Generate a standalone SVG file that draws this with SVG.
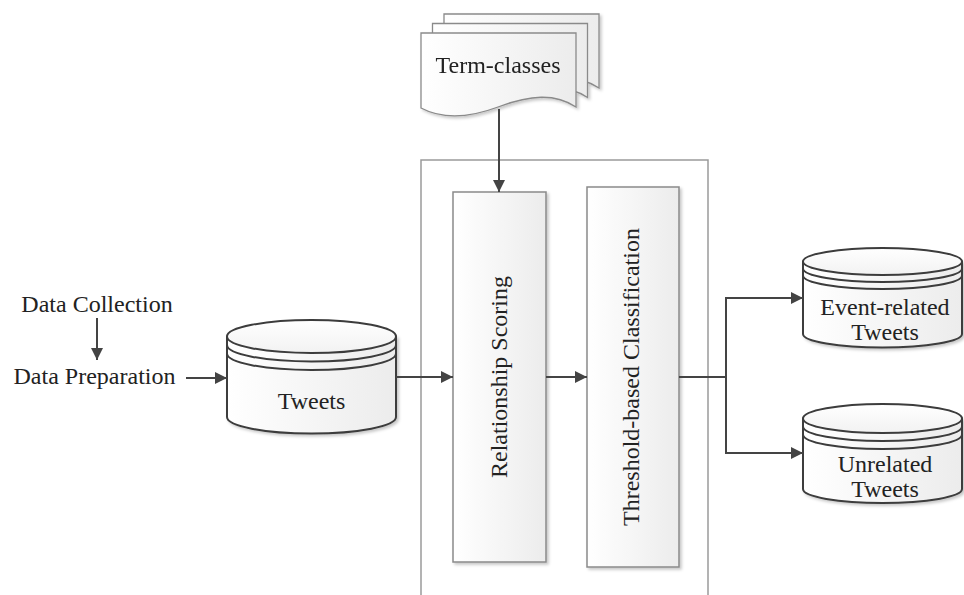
<svg xmlns="http://www.w3.org/2000/svg" width="964" height="595" viewBox="0 0 964 595">
  <style>
    .t { font-family: "Liberation Serif", "Times New Roman", serif; font-size: 24px; fill: #222; }
    .mid { text-anchor: middle; }
    .box { fill: url(#g); stroke: #8a8a8a; stroke-width: 1.5; filter: url(#sh); }
    .cyl { fill: url(#g); stroke: #3c3c3c; stroke-width: 2; }
    .cylTop { fill: url(#g2); stroke: #3c3c3c; stroke-width: 2; }
    .band { fill: none; stroke: #3c3c3c; stroke-width: 2; }
    .doc { fill: url(#g); stroke: #8a8a8a; stroke-width: 1.3; }
    .ln { fill: none; stroke: #444; stroke-width: 2; }
    .arr { fill: none; stroke: #444; stroke-width: 2; marker-end: url(#ah); }
  </style>
  <defs>
    <linearGradient id="g" x1="0" y1="0" x2="1" y2="0">
      <stop offset="0" stop-color="#ffffff"/>
      <stop offset="1" stop-color="#ececec"/>
    </linearGradient>
    <linearGradient id="g2" x1="0" y1="0" x2="0" y2="1">
      <stop offset="0" stop-color="#ffffff"/>
      <stop offset="1" stop-color="#f2f2f2"/>
    </linearGradient>
    <filter id="sh" x="-10%" y="-10%" width="130%" height="130%">
      <feDropShadow dx="2" dy="2" stdDeviation="1.5" flood-color="#000" flood-opacity="0.22"/>
    </filter>
    <marker id="ah" viewBox="0 0 12 12" refX="12" refY="6" markerWidth="12" markerHeight="12" markerUnits="userSpaceOnUse" orient="auto">
      <path d="M0,0 L12,6 L0,12 z" fill="#444"/>
    </marker>
  </defs>

  <g id="container">
    <path d="M421,595 V160 H708 V595" fill="none" stroke="#9a9a9a" stroke-width="1.5"/>
  </g>

  <g id="term-classes" filter="url(#sh)">
    <path class="doc" transform="translate(23,-19)" d="M421,33 H576 V107 C555,93 530,95 498,107 C466,119 440,118 421,108 Z"/>
    <path class="doc" transform="translate(11.5,-9.5)" d="M421,33 H576 V107 C555,93 530,95 498,107 C466,119 440,118 421,108 Z"/>
    <path class="doc" d="M421,33 H576 V107 C555,93 530,95 498,107 C466,119 440,118 421,108 Z"/>
    <text class="t mid" x="498" y="73">Term-classes</text>
  </g>

  <g id="data-collection">
    <text class="t mid" x="97" y="312">Data Collection</text>
  </g>
  <g id="data-preparation">
    <text class="t mid" x="94.5" y="384">Data Preparation</text>
  </g>

  <g id="tweets">
    <path class="cyl" d="M227,336.5 V417 A84.5,16.5 0 0 0 396,417 V336.5 Z" filter="url(#sh)"/>
    <ellipse class="cylTop" cx="311.5" cy="336.5" rx="84.5" ry="16.5"/>
    <path class="band" d="M227,345 A84.5,16.5 0 0 0 396,345"/>
    <path class="band" d="M227,353.5 A84.5,16.5 0 0 0 396,353.5"/>
    <text class="t mid" x="311.5" y="409">Tweets</text>
  </g>

  <g id="relationship-scoring">
    <rect class="box" x="453" y="192" width="93" height="370"/>
    <text class="t mid" transform="translate(500,377) rotate(-90)" x="0" y="7">Relationship Scoring</text>
  </g>

  <g id="threshold-classification">
    <rect class="box" x="587" y="187" width="92" height="380"/>
    <text class="t mid" transform="translate(631,377) rotate(-90)" x="0" y="8">Threshold-based Classification</text>
  </g>

  <g id="event-related">
    <path class="cyl" d="M803,261.5 V334 A79.5,13.5 0 0 0 962,334 V261.5 Z" filter="url(#sh)"/>
    <ellipse class="cylTop" cx="882.5" cy="261.5" rx="79.5" ry="13.5"/>
    <path class="band" d="M803,268.5 A79.5,13.5 0 0 0 962,268.5"/>
    <path class="band" d="M803,275.5 A79.5,13.5 0 0 0 962,275.5"/>
    <text class="t mid" x="885" y="315">Event-related</text>
    <text class="t mid" x="885" y="340">Tweets</text>
  </g>

  <g id="unrelated">
    <path class="cyl" d="M803,418.5 V489 A79.5,14 0 0 0 962,489 V418.5 Z" filter="url(#sh)"/>
    <ellipse class="cylTop" cx="882.5" cy="418.5" rx="79.5" ry="14.5"/>
    <path class="band" d="M803,426.5 A79.5,14.5 0 0 0 962,426.5"/>
    <path class="band" d="M803,434.5 A79.5,14.5 0 0 0 962,434.5"/>
    <text class="t mid" x="885" y="472">Unrelated</text>
    <text class="t mid" x="885" y="497">Tweets</text>
  </g>

  <g id="connectors">
    <path class="arr" d="M97,318 V360"/>
    <path class="arr" d="M186,378 H227"/>
    <path class="arr" d="M499,109 V192"/>
    <path class="arr" d="M396,377 H453"/>
    <path class="arr" d="M546,377 H587"/>
    <path class="ln" d="M679,377 H726"/>
    <path class="arr" d="M726,377 V298 H803"/>
    <path class="arr" d="M726,377 V453 H803"/>
  </g>
</svg>
